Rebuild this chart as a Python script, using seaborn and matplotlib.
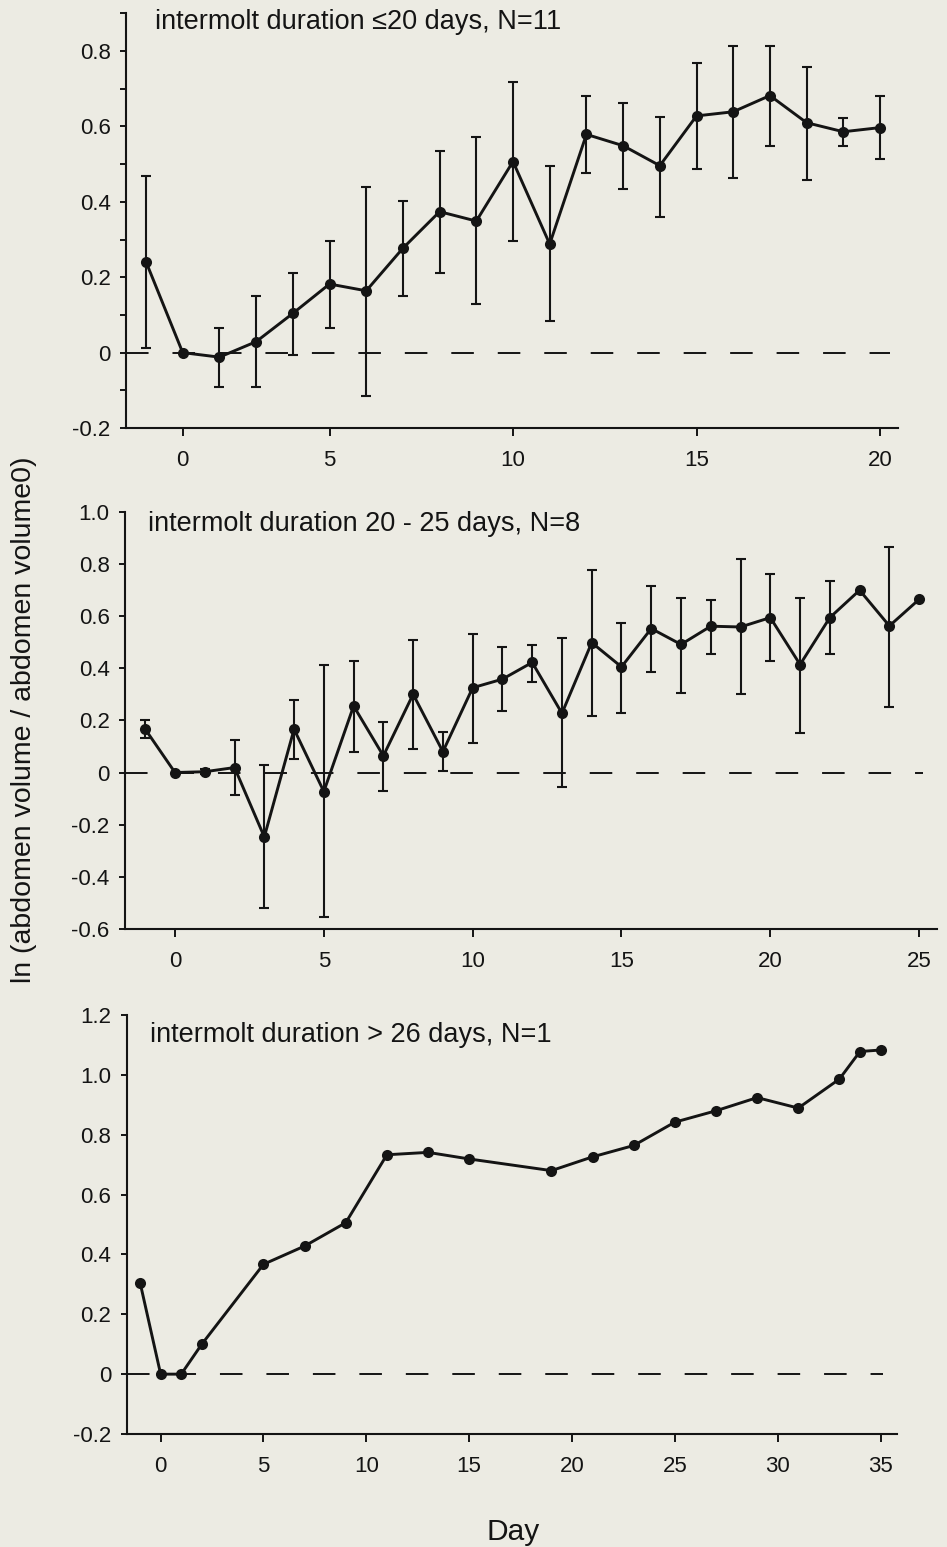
import numpy as np
import matplotlib
matplotlib.use("Agg")
import matplotlib.pyplot as plt
import seaborn as sns
from matplotlib.ticker import FixedLocator, FuncFormatter

# ---------------- data ----------------
# Panel 1: intermolt duration <=20 days (categorical day axis)
days1 = [-1, 0, 2, 3, 4, 5, 6, 7, 8, 9, 10, 11, 12, 13, 14, 15, 16, 17, 18, 19, 20]
mean1 = [0.241, 0.0, -0.012, 0.029, 0.104, 0.182, 0.164, 0.277, 0.374, 0.349, 0.507,
         0.288, 0.579, 0.549, 0.496, 0.628, 0.639, 0.682, 0.610, 0.586, 0.597]
hi1 = [0.469, np.nan, 0.065, 0.151, 0.212, 0.296, 0.440, 0.403, 0.536, 0.573, 0.719,
       0.495, 0.681, 0.662, 0.626, 0.768, 0.814, 0.814, 0.759, 0.622, 0.681]
lo1 = [0.012, np.nan, -0.090, -0.090, -0.006, 0.065, -0.115, 0.151, 0.211, 0.128, 0.296,
       0.084, 0.476, 0.433, 0.361, 0.486, 0.464, 0.549, 0.458, 0.549, 0.513]
xticks1 = [0, 5, 10, 15, 20]

# Panel 2: intermolt duration 20 - 25 days
days2 = list(range(-1, 26))
mean2 = [0.166, 0.0, 0.003, 0.019, -0.247, 0.166, -0.073, 0.255, 0.064, 0.300, 0.080,
         0.325, 0.358, 0.422, 0.227, 0.498, 0.405, 0.552, 0.491, 0.561, 0.558, 0.594,
         0.414, 0.594, 0.699, 0.562, 0.664]
hi2 = [0.200, np.nan, 0.013, 0.125, 0.027, 0.278, 0.412, 0.428, 0.195, 0.507, 0.157,
       0.530, 0.482, 0.488, 0.514, 0.775, 0.575, 0.714, 0.670, 0.663, 0.817, 0.760,
       0.670, 0.734, np.nan, 0.864, np.nan]
lo2 = [0.131, np.nan, -0.007, -0.085, -0.519, 0.052, -0.553, 0.080, -0.070, 0.089, 0.005,
       0.115, 0.236, 0.348, -0.057, 0.218, 0.227, 0.384, 0.306, 0.456, 0.300, 0.427,
       0.150, 0.456, np.nan, 0.252, np.nan]
xticks2 = [0, 5, 10, 15, 20, 25]

# Panel 3: intermolt duration > 26 days
days3 = [-1, 0, 1, 2, 5, 7, 9, 11, 13, 15, 19, 21, 23, 25, 27, 29, 31, 33, 34, 35]
mean3 = [0.306, 0.0, 0.0, 0.100, 0.367, 0.428, 0.506, 0.733, 0.741, 0.719, 0.680,
         0.726, 0.764, 0.842, 0.880, 0.924, 0.889, 0.986, 1.078, 1.083]
xticks3 = [0, 5, 10, 15, 20, 25, 30, 35]

titles = ["intermolt duration \u226420 days, N=11",
          "intermolt duration 20 - 25 days, N=8",
          "intermolt duration > 26 days, N=1"]
ylabel = "ln (abdomen volume / abdomen volume0)"
xlabel = "Day"

# ---------------- style ----------------
BG = "#ECEBE3"
INK = "#141414"
sns.set_theme(style="ticks")
plt.rcParams.update({
    "font.family": ["Liberation Sans", "DejaVu Sans"],
    "axes.unicode_minus": False,
    "figure.facecolor": BG,
    "axes.facecolor": BG,
    "axes.edgecolor": INK,
    "axes.linewidth": 1.5,
    "xtick.color": INK,
    "ytick.color": INK,
    "text.color": INK,
})

fig = plt.figure(figsize=(9.47, 15.47), dpi=100)
W, H = 947.0, 1547.0

def make_ax(left, right, top, bottom):
    return fig.add_axes([left / W, 1 - bottom / H, (right - left) / W, (bottom - top) / H])

ax1 = make_ax(126, 898, 13.4, 428)
ax2 = make_ax(125, 937, 511.7, 929)
ax3 = make_ax(126.7, 897, 1015, 1434)

LW = 2.1
MS = 8.0
def fmt(v, _pos=None):
    if abs(v) < 1e-9:
        return "0"
    return f"{v:.1f}"

def style_axes(ax, ylim, yticks, yminor=None):
    ax.set_ylim(*ylim)
    ax.yaxis.set_major_locator(FixedLocator(yticks))
    ax.yaxis.set_major_formatter(FuncFormatter(fmt))
    if yminor is not None:
        ax.yaxis.set_minor_locator(FixedLocator(yminor))
    sns.despine(ax=ax)
    ax.tick_params(axis="y", which="both", length=4, width=1.4, pad=7, labelsize=16, direction="out")
    ax.tick_params(axis="x", which="major", length=6, width=1.4, pad=10, labelsize=16, direction="out")
    ax.set_xlabel("")
    ax.set_ylabel("")

def zero_line(ax, x0, x1):
    ax.hlines(0, x0, x1, colors=INK, linewidth=1.4,
              linestyles=(0, (11.6, 12.3)), zorder=1)

def err_bars(ax, x, m, lo, hi):
    x = np.asarray(x, float); m = np.asarray(m, float)
    lo = np.asarray(lo, float); hi = np.asarray(hi, float)
    ok = ~np.isnan(lo)
    ax.errorbar(x[ok], m[ok], yerr=[m[ok] - lo[ok], hi[ok] - m[ok]], fmt="none",
                ecolor=INK, elinewidth=1.5, capsize=3.8, capthick=1.5, zorder=2)

# ---- panel 1 (categorical positions) ----
lab1 = [str(d) for d in days1]
sns.pointplot(x=lab1, y=mean1, order=lab1, color=INK, markers="o", linestyles="-",
              errorbar=None, markersize=MS, linewidth=LW, markeredgewidth=0,
              ax=ax1, zorder=3)
pos1 = np.arange(len(days1))
err_bars(ax1, pos1, mean1, lo1, hi1)
ax1.set_xlim(-0.545, 20.49)
zero_line(ax1, -0.545, 20.27)
ax1.set_xticks([days1.index(d) for d in xticks1])
ax1.set_xticklabels([str(d) for d in xticks1])
style_axes(ax1, (-0.2, 0.9), [-0.2, 0.0, 0.2, 0.4, 0.6, 0.8],
           [-0.1, 0.1, 0.3, 0.5, 0.7, 0.9])

# ---- panel 2 ----
sns.lineplot(x=days2, y=mean2, color=INK, marker="o", markersize=MS, markeredgewidth=0,
             linewidth=LW, ax=ax2, zorder=3)
err_bars(ax2, days2, mean2, lo2, hi2)
ax2.set_xlim(-1.68, 25.6)
zero_line(ax2, -1.68, 25.13)
ax2.set_xticks(xticks2)
ax2.set_xticklabels([str(d) for d in xticks2])
style_axes(ax2, (-0.6, 1.0), [-0.6, -0.4, -0.2, 0.0, 0.2, 0.4, 0.6, 0.8, 1.0])

# ---- panel 3 ----
sns.lineplot(x=days3, y=mean3, color=INK, marker="o", markersize=MS, markeredgewidth=0,
             linewidth=LW, ax=ax3, zorder=3)
ax3.set_xlim(-1.65, 35.8)
zero_line(ax3, -1.65, 35.1)
ax3.set_xticks(xticks3)
ax3.set_xticklabels([str(d) for d in xticks3])
style_axes(ax3, (-0.2, 1.2), [-0.2, 0.0, 0.2, 0.4, 0.6, 0.8, 1.0, 1.2])

# ---- panel titles (inside axes) ----
for t, (px, base) in zip(titles, [(155, 29.3), (148, 531), (150, 1041.7)]):
    fig.text(px / W, 1 - base / H, t, fontsize=19.5, ha="left", va="baseline", color=INK)

fig.text(24 / W, 1 - 720 / H, ylabel, rotation=90, fontsize=20.5, ha="center", va="center")
fig.text(513 / W, 1 - 1540 / H, xlabel, fontsize=21.5, ha="center", va="baseline")

fig.savefig("out.png", dpi=100, facecolor=BG)
